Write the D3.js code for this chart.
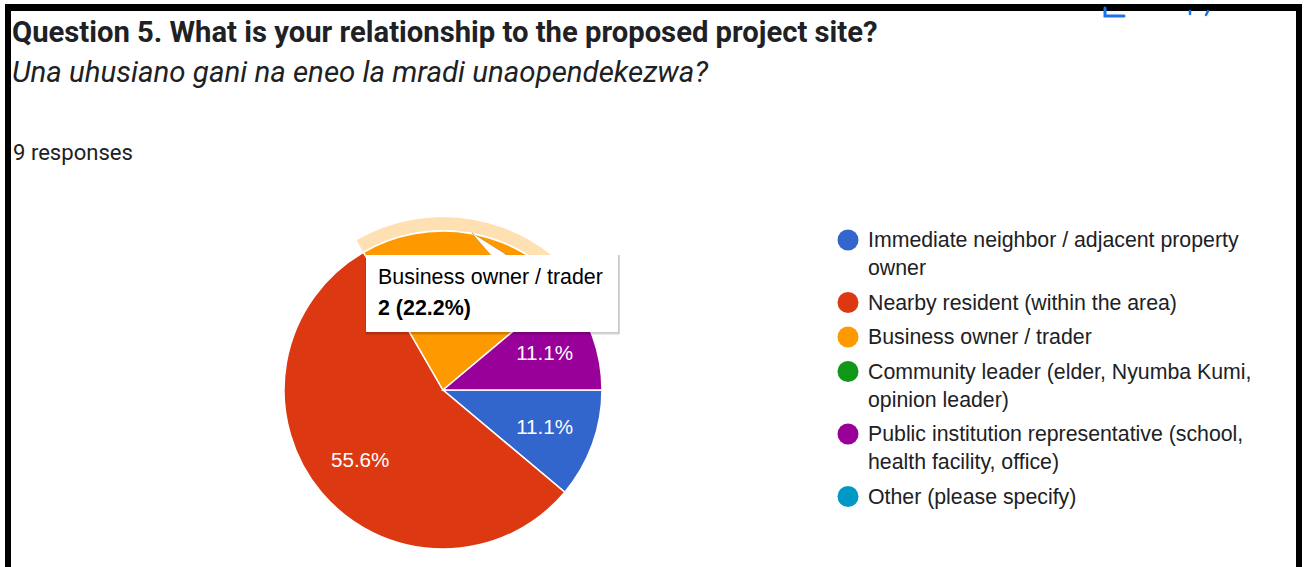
<!DOCTYPE html>
<html>
<head>
<meta charset="utf-8">
<script src="https://cdn.jsdelivr.net/npm/d3@7"></script>
<style>
  html, body { margin: 0; padding: 0; background: #fff; }
  svg { display: block; }
</style>
</head>
<body>
<svg id="chart" width="1304" height="567"></svg>
<script>
// Survey answers for Question 5
const categories = [
  "Immediate neighbor / adjacent property owner",
  "Nearby resident (within the area)",
  "Business owner / trader",
  "Community leader (elder, Nyumba Kumi, opinion leader)",
  "Public institution representative (school, health facility, office)",
  "Other (please specify)"
];
const counts = [1, 5, 2, 0, 1, 0];
const colors = ["#3366cc", "#dc3912", "#ff9900", "#109618", "#990099", "#0099c6"];
const titleText = "Question 5. What is your relationship to the proposed project site?";
const subtitleText = "Una uhusiano gani na eneo la mradi unaopendekezwa?";
const highlighted = 2; // slice with the open tooltip

const total = d3.sum(counts);
const pct = v => (v / total * 100).toFixed(1) + "%";

const svg = d3.select("#chart");
const SANS = "Arial, 'Liberation Sans', sans-serif";

// fit a text element's font size so it spans the given width
function fitWidth(sel, target) {
  const node = sel.node();
  const fs = parseFloat(sel.attr("font-size"));
  const w = node.getComputedTextLength();
  sel.attr("font-size", (fs * target / w).toFixed(2));
}

// measure the font size that makes a sample string span a width
function sizeFor(sample, target, weight) {
  const t = svg.append("text").attr("font-family", SANS).attr("font-size", 20)
    .attr("font-weight", weight || "normal").text(sample);
  const w = t.node().getComputedTextLength();
  t.remove();
  return 20 * target / w;
}

// frame
svg.append("rect").attr("x", 5).attr("y", 4).attr("width", 1297).attr("height", 7).attr("fill", "#000");
svg.append("rect").attr("x", 5).attr("y", 4).attr("width", 6).attr("height", 563).attr("fill", "#000");
svg.append("rect").attr("x", 1296).attr("y", 4).attr("width", 6).attr("height", 563).attr("fill", "#000");

// clipped toolbar icons peeking below the top edge
const icons = svg.append("g").attr("fill", "none").attr("stroke", "#1a73e8").attr("stroke-width", 3).attr("stroke-linecap", "round");
icons.append("path").attr("d", "M1105,8 L1105,16 L1124,16");
icons.append("path").attr("d", "M1190,11 L1190,14").attr("stroke-width", 2.5);
icons.append("path").attr("d", "M1208,11 L1206,15").attr("stroke-width", 2.5);

// headings
const title = svg.append("text").attr("x", 12).attr("y", 42)
  .attr("font-family", "Roboto, Arial, sans-serif").attr("font-weight", "bold")
  .attr("font-size", 24).attr("fill", "#202124").text(titleText);
fitWidth(title, 866);

const sub = svg.append("text").attr("x", 12).attr("y", 82)
  .attr("font-family", "Roboto, Arial, sans-serif").attr("font-style", "italic")
  .attr("font-size", 24).attr("fill", "#202124").text(subtitleText);
fitWidth(sub, 696);

const resp = svg.append("text").attr("x", 13).attr("y", 160)
  .attr("font-family", "Roboto, Arial, sans-serif")
  .attr("font-size", 18).attr("fill", "#202124").text(total + " responses");
fitWidth(resp, 120);

const fsLegend = sizeFor("Nearby resident (within the area)", 309);
const fsLabel = sizeFor("11.1%", 57);

// pie
const cx = 443, cy = 390, r = 159;
const pie = d3.pie().sort(null).value(d => d)
  .startAngle(Math.PI / 2).endAngle(Math.PI / 2 + 2 * Math.PI);
const arcs = pie(counts);
const arc = d3.arc().innerRadius(0).outerRadius(r);
const labelArc = d3.arc().innerRadius(r * 0.68).outerRadius(r * 0.68);
const ring = d3.arc().innerRadius(r + 1).outerRadius(r + 14);

const g = svg.append("g").attr("transform", `translate(${cx},${cy})`);

// highlight ring on the hovered slice
g.append("path").attr("d", ring(arcs[highlighted])).attr("fill", "#ffe0b2");

g.selectAll("path.slice").data(arcs.filter(d => d.value > 0)).join("path")
  .attr("class", "slice")
  .attr("d", arc)
  .attr("fill", d => colors[d.index])
  .attr("stroke", "#fff").attr("stroke-width", 1.5);

// percentage labels (the hovered slice's value is shown in its tooltip)
g.selectAll("text.pl").data(arcs.filter(d => d.value > 0 && d.index !== highlighted)).join("text")
  .attr("class", "pl")
  .attr("transform", d => `translate(${labelArc.centroid(d)})`)
  .attr("text-anchor", "middle").attr("dy", "0.36em")
  .attr("font-family", SANS)
  .attr("font-size", fsLabel).attr("fill", "#fff")
  .text(d => pct(d.value));

// legend
const lg = svg.append("g").attr("font-family", SANS);
const lx = 848, tx = 868, maxW = 392;
let y = 240;
categories.forEach((name, i) => {
  lg.append("circle").attr("cx", lx).attr("cy", y).attr("r", 10.5).attr("fill", colors[i]);
  const t = lg.append("text").attr("x", tx).attr("y", y + 7)
    .attr("font-size", fsLegend).attr("fill", "#202124");
  // word wrap
  const words = name.split(" ");
  let line = [], lines = 0;
  let ts = t.append("tspan").attr("x", tx).attr("dy", 0);
  words.forEach(w => {
    line.push(w);
    ts.text(line.join(" "));
    if (ts.node().getComputedTextLength() > maxW && line.length > 1) {
      line.pop();
      ts.text(line.join(" "));
      line = [w];
      lines++;
      ts = t.append("tspan").attr("x", tx).attr("dy", 28).text(w);
    }
  });
  y += lines * 28 + 34.5;
});

// tooltip for the hovered slice
const tip = svg.append("g");
const bx = 366, by = 255, bw = 252, bh = 77;
tip.append("rect").attr("x", bx - 1).attr("y", by).attr("width", bw + 3).attr("height", bh + 3).attr("fill", "rgba(0,0,0,0.10)");
tip.append("rect").attr("x", bx).attr("y", by).attr("width", bw + 1.5).attr("height", bh + 1.5).attr("fill", "rgba(0,0,0,0.12)");
tip.append("path").attr("d", `M472,233 L491,${by} L507,${by} Z`).attr("fill", "#fff")
  .attr("stroke", "rgba(0,0,0,0.18)").attr("stroke-width", 1);
tip.append("rect").attr("x", bx).attr("y", by).attr("width", bw).attr("height", bh).attr("fill", "#fff");
tip.append("path").attr("d", `M473,234 L492,${by + 1} L506,${by + 1} Z`).attr("fill", "#fff");
const fsTip = sizeFor(categories[highlighted], 225);
tip.append("text").attr("x", 378).attr("y", 284)
  .attr("font-family", SANS).attr("font-size", fsTip).attr("fill", "#000")
  .text(categories[highlighted]);
tip.append("text").attr("x", 378).attr("y", 315)
  .attr("font-family", SANS).attr("font-size", fsTip)
  .attr("font-weight", "bold").attr("fill", "#000")
  .text(`${counts[highlighted]} (${pct(counts[highlighted])})`);
</script>
</body>
</html>
